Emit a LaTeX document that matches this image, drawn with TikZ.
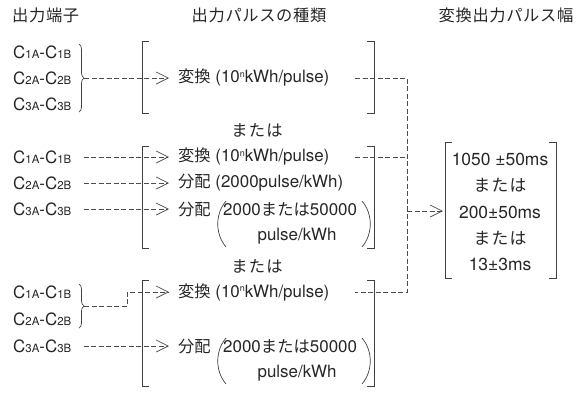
\documentclass[tikz,border=0pt]{standalone}
\usepackage{fontspec}
\setmainfont{TeX Gyre Heros}
\newfontfamily\jp{Noto Sans CJK JP}[Scale=0.96]
\usetikzlibrary{arrows.meta,decorations.pathreplacing}
\tikzset{>={Straight Barb[length=12bp,width=12bp]}}
\newcommand{\sm}[1]{{\fontsize{11.5}{11.5}\selectfont #1}}
\newcommand{\cpair}[1]{C\sm{#1A}-C\sm{#1B}}
\newcommand{\conv}{{\jp 変換} (10\raisebox{5.5bp}{\fontsize{9}{9}\selectfont n}kWh/pulse)}

\begin{document}
\begin{tikzpicture}[x=1bp,y=-1bp,font=\fontsize{17}{20}\selectfont,
	txt/.style={anchor=west,inner sep=0pt,text=black!85},
	dline/.style={black!70,line width=0.7bp,dash pattern=on 5bp off 2.5bp},
	brk/.style={black!75,line width=0.9bp},
	brc/.style={black!75,line width=0.7bp,decorate,decoration={brace,amplitude=5bp}},
	paren/.style={black!75,line width=0.7bp}]
	\useasboundingbox (0,0) rectangle (576,394);
	
	% headings
	\node[txt] (h1) at (12,15) {\jp\addfontfeature{LetterSpace=4} 出力端子};
	\node[text=black!85] (h2) at (259,15) {\jp\addfontfeature{LetterSpace=4} 出力パルスの種類};
	\node[text=black!85] (h3) at (506,15) {\jp\addfontfeature{LetterSpace=4} 変換出力パルス幅};
	
	% first group
	\node[txt] (a1) at (13,52) {\cpair1};
	\node[txt] (a2) at (13,78) {\cpair2};
	\node[txt] (a3) at (13,104) {\cpair3};
	\draw[brc] (79,44) -- (79,112);
	\coordinate (ba) at (84,78);
	\draw[brk] (149,41) -- (142,41) -- (142,113) -- (149,113);
	\draw[brk] (367,41) -- (374,41) -- (374,113) -- (367,113);
	\node[txt] (k1) at (178,78) {\conv};
	\draw[dline,->,shorten >=9bp] (ba) -- (k1.west);
	
	\node[text=black!85] (m1) at (257,130) {\jp\addfontfeature{LetterSpace=8} または};
	
	% second group
	\node[txt] (b1) at (13,157) {\cpair1};
	\node[txt] (b2) at (13,183) {\cpair2};
	\node[txt] (b3) at (13,209) {\cpair3};
	\draw[brk] (149,146) -- (142,146) -- (142,248) -- (149,248);
	\draw[brk] (367,146) -- (374,146) -- (374,248) -- (367,248);
	\node[txt] (p1) at (178,157) {\conv};
	\node[txt] (p2) at (178,183) {{\jp 分配} (2000pulse/kWh)};
	\node[txt] (p3) at (178,209) {\jp 分配};
	\node[txt] (p3a) at (223,209) {2000{\jp\addfontfeature{LetterSpace=1} または}50000};
	\node[text=black!85] (p3b) at (297,236) {pulse/kWh};
	\draw[paren] (226,201) .. controls (215,214) and (215,234) .. (226,247);
	\draw[paren] (362,201) .. controls (373,214) and (373,234) .. (362,247);
	\draw[dline,->,shorten >=9bp] ([xshift=12bp]b1.east) -- (p1.west);
	\draw[dline,->,shorten >=9bp] ([xshift=12bp]b2.east) -- (p2.west);
	\draw[dline,->,shorten >=9bp] ([xshift=12bp]b3.east) -- (p3.west);
	
	\node[text=black!85] (m2) at (257,266) {\jp\addfontfeature{LetterSpace=8} または};
	
	% third group
	\node[txt] (c1) at (13,292) {\cpair1};
	\node[txt] (c2) at (13,319) {\cpair2};
	\node[txt] (c3) at (13,346) {\cpair3};
	\draw[brc] (79,284) -- (79,328);
	\coordinate (bc) at (84,306);
	\coordinate (jog) at (127,292);
	\draw[brk] (149,280) -- (142,280) -- (142,386) -- (149,386);
	\draw[brk] (367,280) -- (374,280) -- (374,386) -- (367,386);
	\node[txt] (q1) at (178,292) {\conv};
	\node[txt] (q3) at (178,346) {\jp 分配};
	\node[txt] (q3a) at (223,346) {2000{\jp\addfontfeature{LetterSpace=1} または}50000};
	\node[text=black!85] (q3b) at (297,373) {pulse/kWh};
	\draw[paren] (226,338) .. controls (215,351) and (215,371) .. (226,384);
	\draw[paren] (362,338) .. controls (373,351) and (373,371) .. (362,384);
	\draw[dline,->,shorten >=9bp] (bc) -| (jog) -- (q1.west);
	\draw[dline,->,shorten >=9bp] ([xshift=12bp]c3.east) -- (q3.west);
	
	% collecting line
	\coordinate (r1) at (355,78);
	\coordinate (r2) at (355,157);
	\coordinate (r3) at (355,292);
	\coordinate (v1) at (407,78);
	\coordinate (v2) at (407,157);
	\coordinate (v3) at (407,292);
	\draw[dline] (r1) -- (v1) -- (v3) -- (r3);
	\draw[dline] (r2) -- (v2);
	
	% pulse width
	\draw[brk] (452,142) -- (445,142) -- (445,278) -- (452,278);
	\draw[brk] (549,142) -- (556,142) -- (556,278) -- (549,278);
	\node[align=center,text=black!85,font=\fontsize{17.5}{26.5}\selectfont] (res) at (500,212)
		{1050 ±50ms\\ {\jp\addfontfeature{LetterSpace=8} または}\\ 200±50ms\\ {\jp\addfontfeature{LetterSpace=8} または}\\ 13±3ms};
	\coordinate (vo) at (407,211);
	\coordinate (ri) at (443,211);
	\draw[dline,->] (vo) -- (ri);
\end{tikzpicture}
\end{document}
